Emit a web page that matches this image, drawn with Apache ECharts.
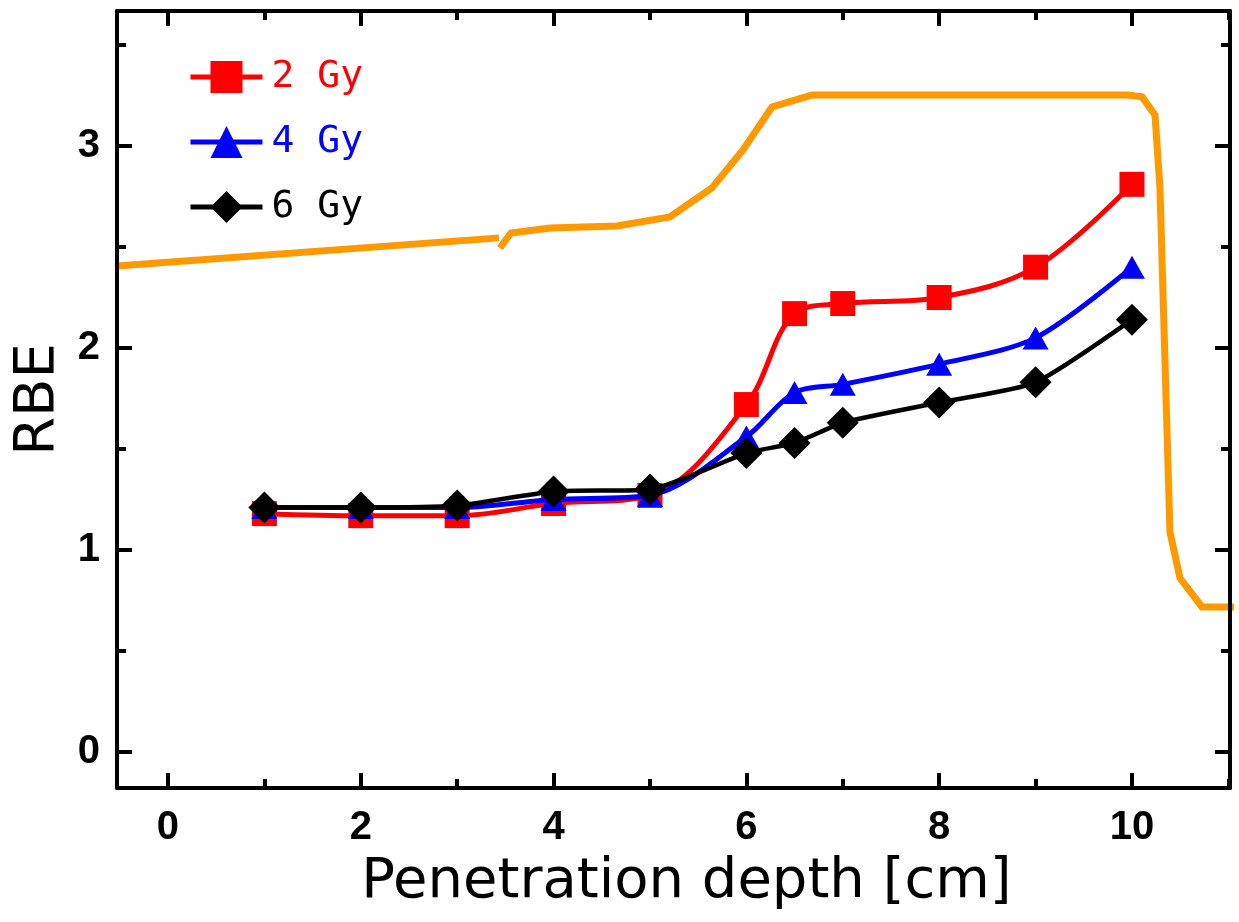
<!DOCTYPE html>
<html>
<head>
<meta charset="utf-8">
<script src="https://cdn.jsdelivr.net/npm/echarts@6/dist/echarts.min.js"></script>
<style>
  html, body { margin: 0; padding: 0; background: #fff; }
  #chart { width: 1239px; height: 922px; }
</style>
</head>
<body>
<div id="chart"></div>
<script>
// Measurement depths [cm] and RBE values per dose level
const depths = [1, 2, 3, 4, 5, 6, 6.5, 7, 8, 9, 10];
const rbe2Gy = [1.18, 1.17, 1.17, 1.23, 1.27, 1.72, 2.17, 2.22, 2.25, 2.40, 2.81];
const rbe4Gy = [1.21, 1.21, 1.21, 1.25, 1.27, 1.56, 1.78, 1.82, 1.92, 2.05, 2.40];
const rbe6Gy = [1.21, 1.21, 1.22, 1.29, 1.30, 1.48, 1.53, 1.63, 1.73, 1.83, 2.14];

// Depth-dose profile (drawn in RBE-axis units); '-' marks the gap in the curve
const profileDepth = [-0.53, 3.434, 3.44, 3.444, 3.558, 3.963, 4.658, 5.207, 5.643, 5.965, 6.266, 6.680, 9.948, 10.104, 10.239, 10.290, 10.394, 10.498, 10.726, 11.11];
const profileLevel = [2.406, 2.545, '-', 2.495, 2.569, 2.594, 2.604, 2.649, 2.792, 2.980, 3.193, 3.252, 3.252, 3.243, 3.153, 2.797, 1.089, 0.861, 0.718, 0.718];

// Tick positions
const xMajorTicks = [0, 2, 4, 6, 8, 10];
const xMinorTicks = [1, 3, 5, 7, 9, 11];
const yMajorTicks = [0, 1, 2, 3];
const yMinorTicks = [0.5, 1.5, 2.5, 3.5];

const seriesNames = ['2 Gy', '4 Gy', '6 Gy'];
const seriesColors = ['#ff0000', '#0000ff', '#000000'];

const X_MIN = -0.529, X_MAX = 11.017;
const Y_MIN = -0.178, Y_MAX = 3.668;

const labelFont = {
  fontFamily: "'Liberation Sans Narrow', 'Liberation Sans', sans-serif",
  fontWeight: 'bold',
  fontSize: 40,
  color: '#000'
};

function pairs(xs, ys) { return xs.map((x, i) => [x, ys[i]]); }

function axis(kind, position, ticks, tickLen, opts) {
  const a = {
    type: 'value',
    position: position,
    min: kind === 'x' ? X_MIN : Y_MIN,
    max: kind === 'x' ? X_MAX : Y_MAX,
    splitLine: { show: false },
    axisLine: { show: !!opts.line, onZero: false, lineStyle: { color: '#000', width: 4 } },
    axisTick: { show: true, inside: true, length: tickLen, customValues: ticks,
                lineStyle: { color: '#000', width: 4 } },
    axisLabel: { show: false },
    z: 5
  };
  if (opts.labels) {
    a.axisLabel = Object.assign({ show: true, customValues: ticks, margin: opts.margin }, labelFont);
  }
  if (opts.name) {
    a.name = opts.name;
    a.nameLocation = 'middle';
    a.nameGap = opts.nameGap;
    a.nameTextStyle = { fontFamily: "'DejaVu Sans', sans-serif", fontSize: 56, color: '#000', padding: opts.namePadding || 0 };
  }
  return a;
}

const chart = echarts.init(document.getElementById('chart'), null, { renderer: 'canvas' });

function rbeSeries(i, data, symbol, size, lw, smooth) {
  return {
    name: seriesNames[i],
    type: 'line',
    data: pairs(depths, data),
    smooth: smooth,
    symbol: symbol,
    symbolSize: size,
    showAllSymbol: true,
    lineStyle: { color: seriesColors[i], width: lw },
    itemStyle: { color: seriesColors[i], borderWidth: 0 },
    z: 3 + i
  };
}

chart.setOption({
  animation: false,
  backgroundColor: '#fff',
  grid: { left: 117, right: 9, top: 11, bottom: 134 },
  legend: {
    orient: 'vertical',
    left: 183,
    top: 46,
    itemWidth: 72,
    itemHeight: 40,
    itemGap: 13,
    lineStyle: { width: 5 },
    data: seriesNames.map((n, i) => ({
      name: n,
      textStyle: { color: seriesColors[i] }
    })),
    textStyle: {
      fontFamily: "'DejaVu Sans Mono', monospace",
      fontSize: 38,
      lineHeight: 40,
      padding: [12, 0, 0, 4]
    }
  },
  xAxis: [
    axis('x', 'bottom', xMajorTicks, 15, { line: true, labels: true, margin: 20,
      name: 'Penetration depth [cm]', nameGap: 66, namePadding: [0, 0, 0, 26] }),
    axis('x', 'bottom', xMinorTicks, 9, {}),
    axis('x', 'top', xMajorTicks, 15, { line: true }),
    axis('x', 'top', xMinorTicks, 9, {})
  ],
  yAxis: [
    axis('y', 'left', yMajorTicks, 15, { line: true, labels: true, margin: 17,
      name: 'RBE', nameGap: 50, namePadding: [0, 0, 0, 0] }),
    axis('y', 'left', yMinorTicks, 9, {}),
    axis('y', 'right', yMajorTicks, 15, { line: true }),
    axis('y', 'right', yMinorTicks, 9, {})
  ],
  series: [
    {
      name: 'profile',
      type: 'line',
      data: pairs(profileDepth, profileLevel),
      symbol: 'none',
      clip: false,
      connectNulls: false,
      lineStyle: { color: '#ff9900', width: 7, join: 'miter' },
      z: 2
    },
    rbeSeries(0, rbe2Gy, 'rect', 25, 5, 0.35),
    rbeSeries(1, rbe4Gy, 'triangle', [26, 23], 5, 0.3),
    rbeSeries(2, rbe6Gy, 'diamond', 32, 4.5, 0.2)
  ]
});
</script>
</body>
</html>
